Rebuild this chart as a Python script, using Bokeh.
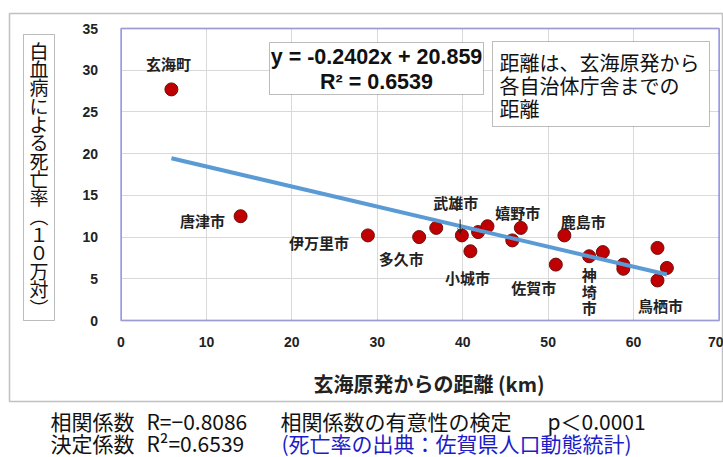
from bokeh.plotting import figure
from bokeh.models import (ColumnDataSource, Range1d, Label, BoxAnnotation, Arrow,
                          OpenHead, SingleIntervalTicker)
from bokeh.core.properties import value
from bokeh.embed import file_html
from bokeh.resources import INLINE

# Distance from the Genkai nuclear plant to each municipal office (km)
distance_km = [5.9, 14.0, 28.9, 34.9, 36.9, 39.9, 40.9, 41.8, 42.9, 45.8,
               46.8, 50.9, 51.9, 54.8, 56.4, 58.8, 58.8, 62.8, 63.9, 62.8]
# Leukaemia death rate (per 100,000)
death_rate = [27.7, 12.5, 10.2, 10.0, 11.1, 10.2, 8.3, 10.6, 11.3, 9.6,
              11.1, 6.7, 10.2, 7.7, 8.2, 6.7, 6.2, 8.7, 6.3, 4.8]
municipality = ["玄海町", "唐津市", "伊万里市", "多久市", "", "武雄市", "小城市", "", "", "",
                "嬉野市", "佐賀市", "鹿島市", "神埼市", "", "", "", "", "", "鳥栖市"]

# Linear trend (least squares) and statistics
slope = -0.2402
intercept = 20.859
r_squared = 0.6539
r_value = -0.8086
p_value_text = "p＜0.0001"

x_min, x_max, x_step = 0, 70, 10
y_min, y_max, y_step = 0, 35, 5

JP = "Noto Sans CJK JP"
LAT = "Liberation Sans"

# canvas and plot-area geometry (pixels)
W, H = 723, 457
AREA_L, AREA_R, AREA_T, AREA_B = 120.5, 718.5, 28.0, 320.0
kx = (AREA_R - AREA_L) / (x_max - x_min)
ky = (AREA_B - AREA_T) / (y_max - y_min)


def sx(px):
    return px


def sy(py):
    return H - py


def screen_box(left, right, top, bottom, line_color="#222222", line_width=1,
               fill_color="white"):
    return BoxAnnotation(left=sx(left), right=sx(right), top=sy(top), bottom=sy(bottom),
                         left_units="screen", right_units="screen",
                         top_units="screen", bottom_units="screen",
                         fill_color=fill_color, fill_alpha=1.0,
                         line_color=line_color, line_width=line_width)


p = figure(width=W, height=H, output_backend="svg", toolbar_location=None,
           x_range=Range1d(x_min - AREA_L / kx, x_max + (W - AREA_R) / kx),
           y_range=Range1d(y_min - (H - AREA_B) / ky, y_max + AREA_T / ky),
           min_border=0, background_fill_color="white", border_fill_color="white")
p.outline_line_color = None

# axes pinned to the plot area
p.xaxis.fixed_location = y_min
p.yaxis.fixed_location = x_min
p.xaxis.bounds = (x_min, x_max)
p.yaxis.bounds = (y_min, y_max)
p.xaxis.ticker = SingleIntervalTicker(interval=x_step)
p.yaxis.ticker = SingleIntervalTicker(interval=y_step)
for ax in (p.xaxis[0], p.yaxis[0]):
    ax.axis_line_color = None
    ax.major_tick_line_color = None
    ax.minor_tick_line_color = None
    ax.major_label_text_font = LAT
    ax.major_label_text_font_style = "bold"
    ax.major_label_text_font_size = "14px"
    ax.major_label_text_color = "#222222"
p.xaxis.major_label_standoff = 10
p.yaxis.major_label_standoff = 17

p.xgrid.bounds = (x_min, x_max)
p.ygrid.bounds = (y_min, y_max)
p.xgrid.cross_bounds = (y_min, y_max)
p.ygrid.cross_bounds = (x_min, x_max)
p.grid.grid_line_color = "#d9d9d9"
p.grid.grid_line_width = 1

# plot-area border
p.add_layout(BoxAnnotation(left=x_min, right=x_max, bottom=y_min, top=y_max,
                           fill_color=None, line_color="#1010C8", line_width=2))

src = ColumnDataSource(dict(x=distance_km, y=death_rate))
p.scatter("x", "y", source=src, size=13, fill_color="#C00000",
          line_color="#6b1010", line_width=1)

# trend line across the observed distance range
x0, x1 = min(distance_km), max(distance_km)
p.line([x0, x1], [slope * x0 + intercept, slope * x1 + intercept],
       line_color="#5B9BD5", line_width=4)

# point labels: pixel offsets from each point
label_offsets = {
    "玄海町": (-3, -26), "唐津市": (-38, 4), "伊万里市": (-49, 7), "多久市": (-18, 21),
    "武雄市": (-6, -33), "小城市": (-3, 26), "嬉野市": (-3, -15), "佐賀市": (-22, 23),
    "鹿島市": (19, -14), "神埼市": (0, 35), "鳥栖市": (3, 25),
}
lx, ly, lt, dx, dy = [], [], [], [], []
for xv, yv, name in zip(distance_km, death_rate, municipality):
    if not name:
        continue
    ox, oy = label_offsets[name]
    lx.append(xv)
    ly.append(yv)
    lt.append("\n".join(name) if name == "神埼市" else name)
    dx.append(ox)
    dy.append(oy)
p.text(x="x", y="y", text="text", x_offset="dx", y_offset="dy",
       source=ColumnDataSource(dict(x=lx, y=ly, text=lt, dx=dx, dy=dy)),
       text_font=value(JP), text_font_style="bold", text_font_size="15px",
       text_color="#222222", text_align="center", text_baseline="middle",
       text_line_height=0.78)

# arrow pointing at 武雄市
ti = municipality.index("武雄市")
p.add_layout(Arrow(end=OpenHead(size=5, line_width=1, line_color="#222222"),
                   x_start=distance_km[ti] - 0.2, x_end=distance_km[ti] - 0.2,
                   y_start=death_rate[ti] + 16 / ky, y_end=death_rate[ti] + 2 / ky,
                   line_color="#222222", line_width=1))

# regression equation box
p.add_layout(screen_box(269, 483, 42, 94))
p.add_layout(Label(x=sx(376), y=sy(44), x_units="screen", y_units="screen",
                   text=f"y = {slope}x + {intercept}\nR² = {r_squared}",
                   text_font=LAT, text_font_style="bold", text_font_size="21.5px",
                   text_color="#111111", text_align="center", text_baseline="top",
                   text_line_height=1.05))

# note box
p.add_layout(screen_box(492, 709, 41, 126))
p.add_layout(Label(x=sx(499), y=sy(47), x_units="screen", y_units="screen",
                   text="距離は、玄海原発から\n各自治体庁舎までの\n距離",
                   text_font=JP, text_font_size="20px", text_color="#111111",
                   text_align="left", text_baseline="top", text_line_height=0.8))

# vertical y-axis title box
p.add_layout(screen_box(23, 54, 34, 320))
p.add_layout(Label(x=sx(38.5), y=sy(36), x_units="screen", y_units="screen",
                   text="\n".join("白血病による死亡率︵１０万対︶"),
                   text_font=JP, text_font_size="19px", text_color="#111111",
                   text_align="center", text_baseline="top", text_line_height=0.68))

# x-axis title
p.add_layout(Label(x=sx(428.5), y=sy(383), x_units="screen", y_units="screen",
                   text="玄海原発からの距離 (km)", text_font=JP, text_font_style="bold",
                   text_font_size="20px", text_color="#222222",
                   text_align="center", text_baseline="middle"))

# outer frame around the chart
p.add_layout(screen_box(9, 722, 13, 401, line_color="#333333", line_width=1.5,
                        fill_color=None))

# statistics below the chart
stats = [
    (50, 420, "相関係数", "#111111"),
    (146, 420, f"R=−{abs(r_value)}", "#111111"),
    (280, 420, "相関係数の有意性の検定", "#111111"),
    (547, 420, p_value_text, "#111111"),
    (50, 442, "決定係数", "#111111"),
    (146, 442, f"R²={r_squared}", "#111111"),
    (281, 442, "(死亡率の出典：佐賀県人口動態統計)", "#1C1CC8"),
]
for px, py, txt, col in stats:
    p.add_layout(Label(x=sx(px), y=sy(py), x_units="screen", y_units="screen",
                       text=txt, text_font=JP, text_font_size="21px",
                       text_color=col, text_align="left", text_baseline="middle"))

open("out.html", "w").write(file_html(p, INLINE))
